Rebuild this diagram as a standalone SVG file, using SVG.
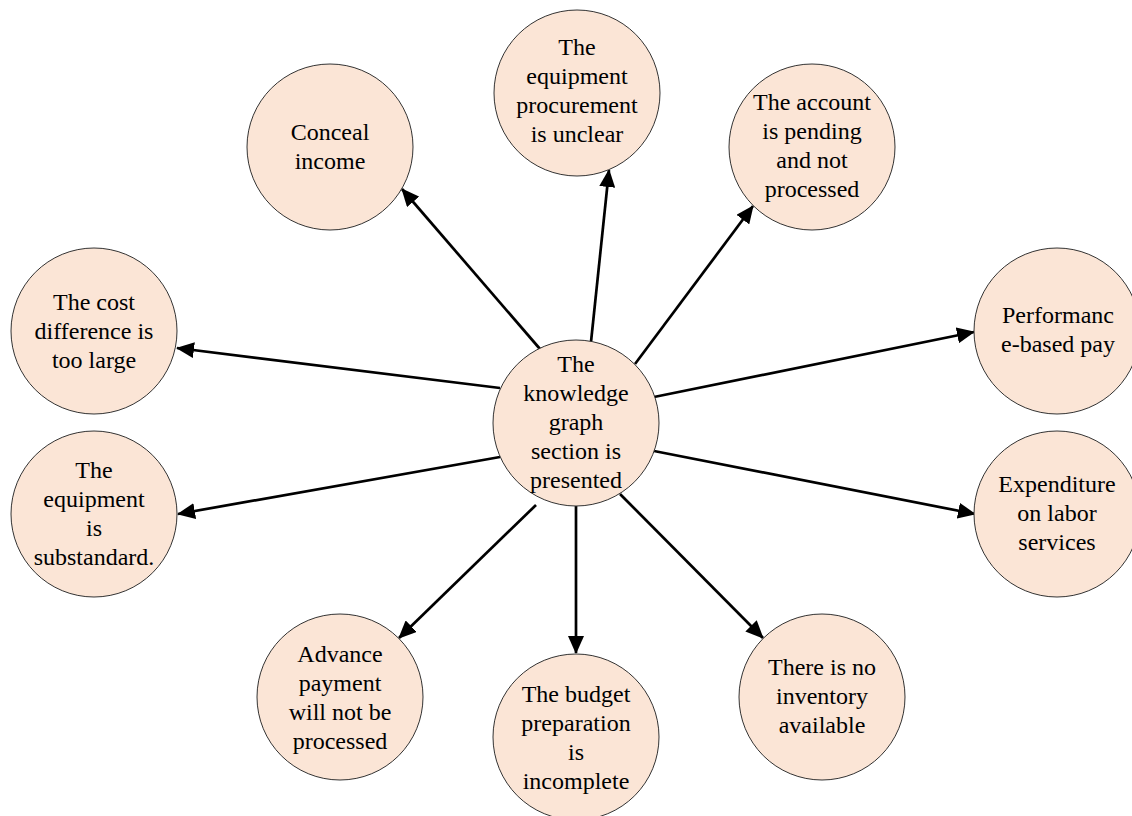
<svg xmlns="http://www.w3.org/2000/svg" width="1132" height="816" viewBox="0 0 1132 816">
<style>
.n{fill:#FBE5D6;stroke:#333;stroke-width:1}
.t{font-family:"Liberation Serif","Times New Roman",serif;font-size:24px;fill:#000;text-anchor:middle}
.e{stroke:#000;stroke-width:2.7;fill:none;marker-end:url(#ah)}
</style>
<defs>
<marker id="ah" viewBox="0 0 18 16" refX="17" refY="8" markerWidth="18" markerHeight="16" markerUnits="userSpaceOnUse" orient="auto">
<path d="M0,0 L18,8 L0,16 z" fill="#000"/>
</marker>
</defs>
<rect width="1132" height="816" fill="#fff"/>
<g id="connectors">
<line class="e" x1="540" y1="349" x2="402" y2="189"/>
<line class="e" x1="500" y1="388" x2="177" y2="348"/>
<line class="e" x1="591" y1="342" x2="609" y2="170"/>
<line class="e" x1="635" y1="364" x2="753" y2="206"/>
<line class="e" x1="654" y1="397" x2="974" y2="332"/>
<line class="e" x1="500" y1="457" x2="178" y2="514"/>
<line class="e" x1="536" y1="505" x2="399" y2="638"/>
<line class="e" x1="654" y1="451" x2="975" y2="514"/>
<line class="e" x1="576" y1="506" x2="576" y2="653"/>
<line class="e" x1="620" y1="494" x2="763" y2="638"/>
</g>
<g id="center">
<circle class="n" cx="576" cy="423" r="83"/>
<text class="t"><tspan x="576" y="372">The</tspan><tspan x="576" y="401">knowledge</tspan><tspan x="576" y="430">graph</tspan><tspan x="576" y="459">section is</tspan><tspan x="576" y="488">presented</tspan></text>
</g>
<g id="conceal">
<circle class="n" cx="330" cy="147" r="83"/>
<text class="t"><tspan x="330" y="140">Conceal</tspan><tspan x="330" y="169">income</tspan></text>
</g>
<g id="procurement">
<circle class="n" cx="577" cy="93" r="83"/>
<text class="t"><tspan x="577" y="55">The</tspan><tspan x="577" y="84">equipment</tspan><tspan x="577" y="113">procurement</tspan><tspan x="577" y="142">is unclear</tspan></text>
</g>
<g id="account">
<circle class="n" cx="812" cy="147" r="83"/>
<text class="t"><tspan x="812" y="110">The account</tspan><tspan x="812" y="139">is pending</tspan><tspan x="812" y="168">and not</tspan><tspan x="812" y="197">processed</tspan></text>
</g>
<g id="costdiff">
<circle class="n" cx="94" cy="331" r="83"/>
<text class="t"><tspan x="94" y="310">The cost</tspan><tspan x="94" y="339">difference is</tspan><tspan x="94" y="368">too large</tspan></text>
</g>
<g id="substandard">
<circle class="n" cx="94" cy="514" r="83"/>
<text class="t"><tspan x="94" y="478">The</tspan><tspan x="94" y="507">equipment</tspan><tspan x="94" y="536">is</tspan><tspan x="94" y="565">substandard.</tspan></text>
</g>
<g id="performance">
<circle class="n" cx="1057" cy="331" r="83"/>
<text class="t"><tspan x="1058" y="323">Performanc</tspan><tspan x="1058" y="352">e-based pay</tspan></text>
</g>
<g id="expenditure">
<circle class="n" cx="1057" cy="514" r="83"/>
<text class="t"><tspan x="1057" y="492">Expenditure</tspan><tspan x="1057" y="521">on labor</tspan><tspan x="1057" y="550">services</tspan></text>
</g>
<g id="advance">
<circle class="n" cx="340" cy="697" r="83"/>
<text class="t"><tspan x="340" y="662">Advance</tspan><tspan x="340" y="691">payment</tspan><tspan x="340" y="720">will not be</tspan><tspan x="340" y="749">processed</tspan></text>
</g>
<g id="budget">
<circle class="n" cx="576" cy="737" r="83"/>
<text class="t"><tspan x="576" y="702">The budget</tspan><tspan x="576" y="731">preparation</tspan><tspan x="576" y="760">is</tspan><tspan x="576" y="789">incomplete</tspan></text>
</g>
<g id="inventory">
<circle class="n" cx="822" cy="697" r="83"/>
<text class="t"><tspan x="822" y="675">There is no</tspan><tspan x="822" y="704">inventory</tspan><tspan x="822" y="733">available</tspan></text>
</g>
</svg>
